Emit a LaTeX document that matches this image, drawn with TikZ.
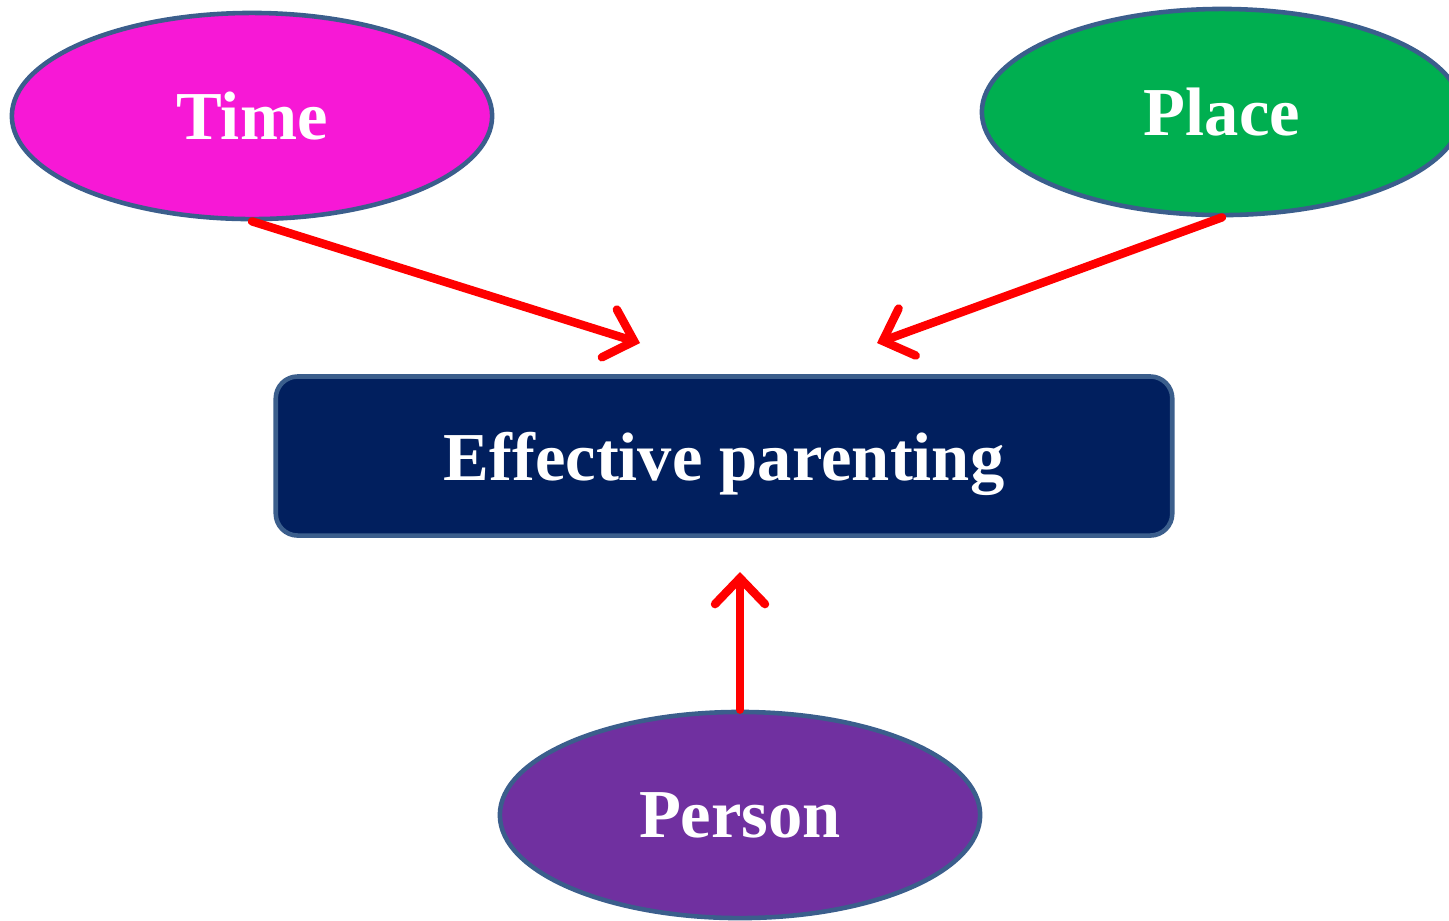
\documentclass[tikz,border=0pt]{standalone}
\usepackage{fontspec}
\setmainfont{Liberation Serif}
\usepackage{tikz}
\usetikzlibrary{shapes.geometric,arrows.meta}

\definecolor{edgeblue}{HTML}{3B5E8C}
\definecolor{timepink}{HTML}{F718D6}
\definecolor{placegreen}{HTML}{00AF50}
\definecolor{personpurple}{HTML}{7030A0}
\definecolor{navybox}{HTML}{011F5E}

\begin{document}
\begin{tikzpicture}[x=0.01cm,y=-0.01cm]
    % --- DEFINE STYLES ---
    % Style for the three factor ovals
    \tikzstyle{factor} = [ellipse, draw=edgeblue, line width=1.3pt, minimum width=4.8cm, minimum height=2.06cm, inner sep=0pt, text=white, font=\fontsize{19.5}{22}\selectfont\bfseries]
    % Style for the central box
    \tikzstyle{goal} = [rectangle, rounded corners=0.22cm, draw=edgeblue, line width=1.3pt, fill=navybox, minimum width=8.96cm, minimum height=1.59cm, text depth=0pt, text=white, font=\fontsize{19.5}{22}\selectfont\bfseries]
    % Style for the red arrows
    \tikzstyle{pointer} = [draw=red, line width=2.4pt, line cap=round, -{Straight Barb[length=0.26cm, width=0.5cm, line cap=round]}]

    \useasboundingbox (0,0) rectangle (1449,920);

    % --- NODES ---
    \node[goal] (parenting) at (724,456) {Effective parenting};
    \node[factor, fill=timepink] (time) at (252,116) {Time};
    \node[factor, fill=placegreen] (place) at (1222,112) {Place};
    \node[factor, fill=personpurple] (person) at (740,815) {Person};

    % arrow tips stop short of the box
    \coordinate (timeend) at (640,343);
    \coordinate (placeend) at (877,343);
    \coordinate (personend) at (740,572);

    % --- ARROWS ---
    \draw[pointer] (time.south) -- (timeend);
    \draw[pointer] (place.south) -- (placeend);
    \draw[pointer] (person.north) -- (personend);
\end{tikzpicture}
\end{document}
